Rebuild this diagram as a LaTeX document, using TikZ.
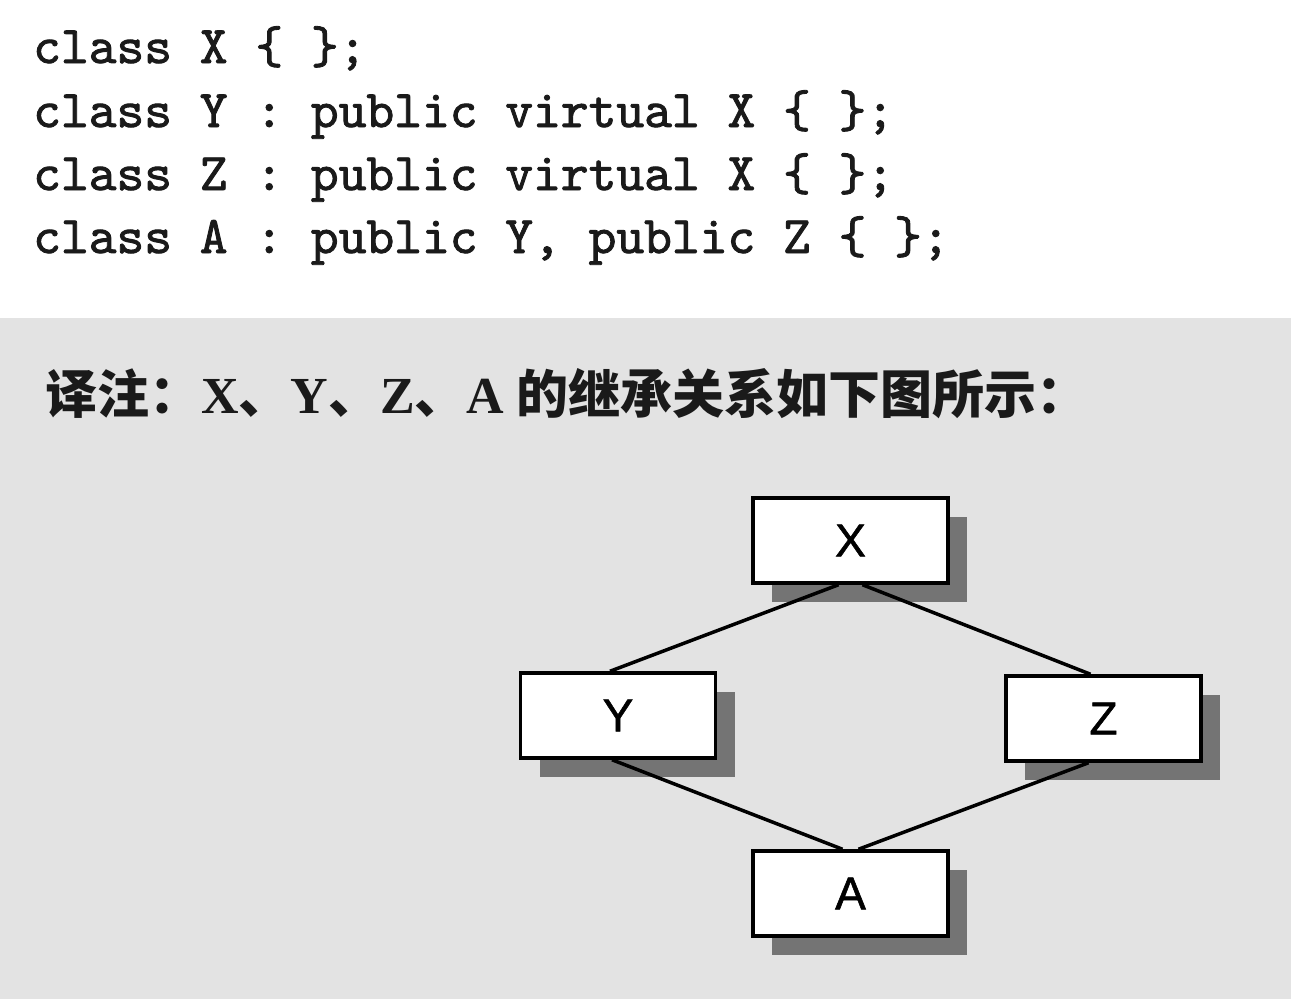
\documentclass[tikz,border=0pt]{standalone}
\usepackage{fontspec}
\usetikzlibrary{shadows}
\newfontfamily\cjk{Noto Sans CJK SC}
\newfontfamily\titlelatin{Liberation Serif}
\newfontfamily\code{lmmono10-regular}[Extension=.otf, FakeBold=1.6]
\newfontfamily\boxfont{Liberation Sans}[FakeBold=1.2]
\definecolor{bggray}{HTML}{E3E3E3}
\definecolor{shadowgray}{HTML}{747474}
\definecolor{ink}{HTML}{1A1A1A}
\tikzset{
  classbox/.style={draw=black, line width=3.5pt, fill=white, minimum width=195pt, minimum height=85pt,
    inner sep=0pt, font=\boxfont\fontsize{46}{50}\selectfont,
    drop shadow={shadow xshift=19pt, shadow yshift=-19pt, fill=shadowgray, opacity=1}},
  codeline/.style={anchor=base west, inner sep=0pt, text=ink, font=\code\fontsize{52.9}{56}\selectfont},
  link/.style={line width=3.5pt, black}
}
\begin{document}
\begin{tikzpicture}[x=1pt, y=-1pt]
\useasboundingbox (0,0) rectangle (1291,999);
\fill[white] (0,0) rectangle (1291,318);
\fill[bggray] (0,318) rectangle (1291,999);
% code
\node[codeline] (l1) at (33,63) {class X \{ \};};
\node[codeline] (l2) at (33,127) {class Y : public virtual X \{ \};};
\node[codeline] (l3) at (33,190) {class Z : public virtual X \{ \};};
\node[codeline] (l4) at (33,253) {class A : public Y, public Z \{ \};};
% title
\node[anchor=base west, inner sep=0pt, text=ink] (title) at (45,413)
  {\cjk\bfseries\fontsize{52}{56}\selectfont 译注：{\titlelatin X}、{\titlelatin Y}、{\titlelatin Z}、{\titlelatin A} 的继承关系如下图所示：};
% boxes
\node[classbox] (X) at (850.5,540.5) {X};
\node[classbox] (Y) at (618,715.5) {Y};
\node[classbox] (Z) at (1103.5,718.5) {Z};
\node[classbox] (A) at (850.5,893.5) {A};
% links
\draw[link] ([xshift=-12pt]X.south) -- ([xshift=-8pt]Y.north);
\draw[link] ([xshift=12pt]X.south) -- ([xshift=-13pt]Z.north);
\draw[link] ([xshift=-6pt]Y.south) -- ([xshift=-8pt]A.north);
\draw[link] ([xshift=-15pt]Z.south) -- ([xshift=8pt]A.north);
\end{tikzpicture}
\end{document}
